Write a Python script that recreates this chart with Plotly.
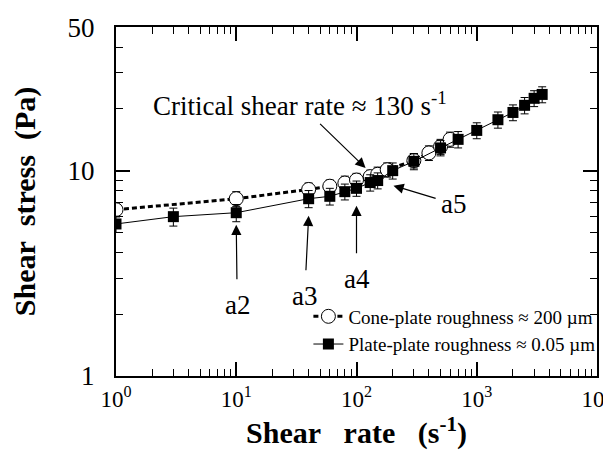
import plotly.graph_objects as go
import math

# ---------------- data ----------------
cone_rate = [1, 10, 40, 60, 80, 100, 130, 150, 180, 300, 400, 500, 600]
cone_stress = [6.45, 7.3, 8.1, 8.4, 8.7, 9.0, 9.35, 9.6, 10.1, 11.2, 12.2, 13.1, 14.2]
cone_err = [0.5, 0.6, 0.6, 0.6, 0.7, 0.7, 0.7, 0.8, 0.8, 0.9, 1.0, 1.1, 1.2]

plate_rate = [1, 3, 10, 40, 60, 80, 100, 130, 150, 200, 300, 500, 700, 1000, 1500, 2000, 2500, 3000, 3500]
plate_stress = [5.5, 5.97, 6.24, 7.3, 7.5, 7.9, 8.2, 8.75, 8.95, 10.0, 11.1, 12.9, 14.2, 15.7, 17.7, 19.2, 20.8, 22.5, 23.5]
plate_err = [0.5, 0.6, 0.6, 0.7, 0.7, 0.7, 0.7, 0.8, 0.8, 0.9, 1.0, 1.1, 1.3, 1.4, 1.6, 1.7, 1.9, 2.0, 2.1]

x_tickvals = [1, 10, 100, 1000, 10000]
x_ticktext = ["10<sup>0</sup>", "10<sup>1</sup>", "10<sup>2</sup>", "10<sup>3</sup>", "10<sup>4</sup>"]
y_tickvals = [1, 10, 50]
y_ticktext = ["1", "10", "50"]

# annotated points (label, shear rate, stress at arrow tip, text offsets)
arrow_labels = ["a2", "a3", "a4"]
arrow_rates = [10, 40, 100]
arrow_tips = [5.45, 6.03, 6.75]
arrow_dx = [1, -4, 0]
arrow_dy = [80, 80, 73]

FONT = "Liberation Serif"

fig = go.Figure()

fig.add_trace(go.Scatter(
    x=cone_rate, y=cone_stress, mode="lines+markers",
    name="Cone-plate roughness \u2248 200 \u00b5m",
    line=dict(color="black", width=3, dash="5px,3px"),
    marker=dict(symbol="circle", size=14, color="white", line=dict(color="black", width=1)),
    error_y=dict(type="data", array=cone_err, visible=True, color="black", thickness=1, width=4),
))
fig.add_trace(go.Scatter(
    x=plate_rate, y=plate_stress, mode="lines+markers",
    name="Plate-plate roughness \u2248 0.05 \u00b5m",
    line=dict(color="black", width=1),
    marker=dict(symbol="square", size=11, color="black", line=dict(color="black", width=0)),
    error_y=dict(type="data", array=plate_err, visible=True, color="black", thickness=1, width=4),
))

minor_x = [m * 10 ** d for d in range(0, 4) for m in range(2, 10)]
minor_y = [2, 3, 4, 5, 6, 7, 8, 9, 20, 30, 40]

axis_common = dict(
    showline=True, linecolor="black", linewidth=2, mirror="ticks",
    ticks="inside", ticklen=14, tickwidth=1.5, tickcolor="black",
    showgrid=False, zeroline=False, ticklabeloverflow="allow", automargin=False,
)

fig.update_xaxes(
    type="log", range=[0, 4], tickmode="array", tickvals=x_tickvals, ticktext=x_ticktext,
    minor=dict(tickmode="array", tickvals=minor_x, ticks="inside", ticklen=7, tickwidth=1, tickcolor="black"),
    tickfont=dict(family=FONT, size=23, color="black"),
    title=dict(text="<b>Shear\u00a0\u00a0\u00a0rate\u00a0\u00a0\u00a0(s<sup>-1</sup>)</b>",
               font=dict(family=FONT, size=30, color="black"), standoff=0),
    ticklabelstandoff=1,
    **axis_common,
)
fig.update_yaxes(
    type="log", range=[0, math.log10(50) + 0.0005], tickmode="array", tickvals=y_tickvals, ticktext=y_ticktext,
    minor=dict(tickmode="array", tickvals=minor_y, ticks="inside", ticklen=7, tickwidth=1, tickcolor="black"),
    tickfont=dict(family=FONT, size=27, color="black"),
    title=dict(text="<b>Shear\u00a0\u00a0stress\u00a0\u00a0(Pa)</b>",
               font=dict(family=FONT, size=30, color="black"), standoff=24),
    ticklabelstandoff=14,
    **axis_common,
)

annotations = []
for lab, xr, yt, dx, dy in zip(arrow_labels, arrow_rates, arrow_tips, arrow_dx, arrow_dy):
    annotations.append(dict(
        x=math.log10(xr), y=math.log10(yt), xref="x", yref="y",
        text=lab, showarrow=True, ax=dx, ay=dy,
        arrowhead=2, arrowsize=1.7, arrowwidth=1.2, arrowcolor="black",
        startstandoff=9,
        font=dict(family=FONT, size=27, color="black"),
    ))
# a5
annotations.append(dict(
    x=math.log10(203), y=math.log10(8.45), xref="x", yref="y",
    text="a5", showarrow=True, ax=60, ay=18,
    arrowhead=2, arrowsize=1.7, arrowwidth=1.2, arrowcolor="black",
    startstandoff=4,
    font=dict(family=FONT, size=27, color="black"),
))
# critical shear rate
annotations.append(dict(
    x=math.log10(119), y=math.log10(10.3), xref="x", yref="y",
    text="Critical shear rate \u2248 130 s<sup>-1</sup>", showarrow=True, ax=-66, ay=-64,
    arrowhead=2, arrowsize=1.7, arrowwidth=1.2, arrowcolor="black",
    startstandoff=2,
    font=dict(family=FONT, size=27, color="black"),
))

fig.update_layout(
    width=611, height=453,
    margin=dict(l=108, r=22, t=19, b=85),
    paper_bgcolor="white", plot_bgcolor="white",
    showlegend=True,
    legend=dict(
        x=0.40, y=0.225, xanchor="left", yanchor="top",
        bgcolor="rgba(0,0,0,0)", borderwidth=0,
        font=dict(family=FONT, size=19, color="black"),
        itemwidth=30, tracegroupgap=0,
    ),
    annotations=annotations,
    font=dict(family=FONT, color="black"),
)

fig.write_html("out.html")
